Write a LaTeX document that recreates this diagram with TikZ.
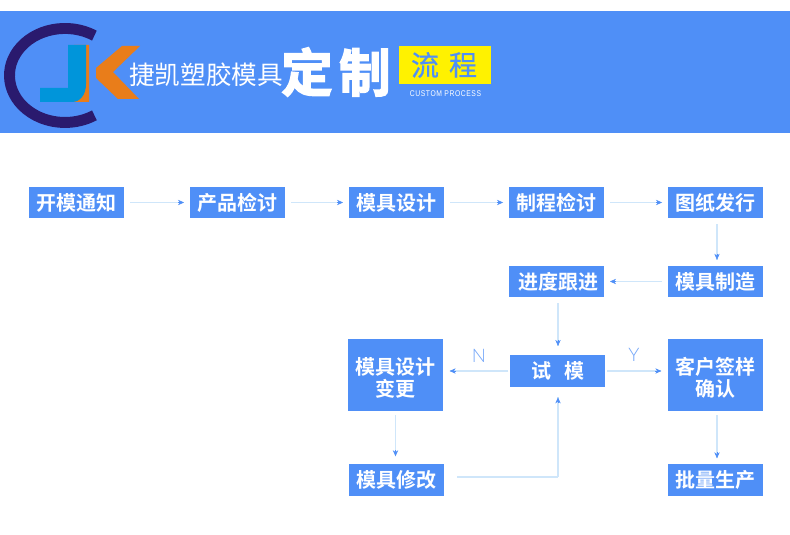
\documentclass[tikz,border=0pt]{standalone}
\usepackage{fontspec}
\setmainfont{Liberation Sans}
\newfontfamily\cjk{Noto Sans CJK SC}
\newfontfamily\cjkm{Noto Sans CJK SC}[FakeBold=0.6]
\newfontfamily\cjkb{Noto Sans CJK SC Bold}
\newfontfamily\cjkh{Noto Sans CJK SC Bold}[FakeBold=3]
\newfontfamily\spaced{Liberation Sans}[LetterSpace=7,FakeStretch=0.82]
\newfontfamily\thinlat{Lato Light}
\usetikzlibrary{arrows.meta,calc}
\definecolor{band}{HTML}{4F8FF7}
\definecolor{linecol}{HTML}{CFE6FA}
\definecolor{cnavy}{HTML}{2A1A6E}
\definecolor{jblue}{HTML}{0095DA}
\definecolor{korange}{HTML}{E97D1A}
\tikzset{
  x=0.75pt,y=-0.75pt,
  procbox/.style={fill=band,text=white,minimum width=71.25pt,minimum height=23.6pt,inner sep=0pt,outer sep=0pt,font=\cjkb\fontsize{15}{17}\selectfont,align=center},
  tallbox/.style={procbox,minimum height=54pt},
  flowplain/.style={draw=linecol,line width=0.9pt},
  flowtip/.style={draw=band,line width=0.4pt,-{Stealth[length=4.5pt,width=4pt]}},
  lab/.style={text=band!80!white,font=\thinlat\fontsize{14}{16}\selectfont,inner sep=0pt}
}
\newcommand{\flowline}[2]{%
  \coordinate (fa) at (#1);\coordinate (fb) at (#2);
  \draw[flowplain] (fa) -- (fb);
  \draw[flowtip] ($(fb)!4.5pt!(fa)$) -- (fb);}
\begin{document}
\begin{tikzpicture}
\useasboundingbox (0,0) rectangle (790,535);
\fill[white] (0,0) rectangle (790,535);
\fill[band] (0,11) rectangle (790,133);
% logo
\draw[cnavy,line width=8.2pt] (94.4,35.6) arc[start angle=-58,end angle=-302,x radius=55.5,y radius=47];
\fill[korange] (74,45) -- (89,45) -- (89,102) -- (70,102) -- cycle;
\fill[jblue] (68,45) -- (86,45) -- (86,84) .. controls (86,95) and (80,102) .. (72,102) -- (40,102) -- (40,88) -- (68,88) -- cycle;
\fill[korange] (122,46) -- (140,46) -- (113,72) -- (139,99) -- (118,99) -- (96,78) -- (96,68) -- cycle;
\node[text=white,font=\cjk\fontsize{19.2}{21}\selectfont,inner sep=0pt] (brand) at (206,75) {捷凯塑胶模具};
\node[text=white,font=\cjkh\fontsize{38.5}{42}\selectfont,inner sep=0pt] (dingzhi) at (336,72) {定\hspace{5pt}制};
\fill[yellow] (399,46) rectangle (491,84);
\node[text=band,font=\cjkm\fontsize{21}{24}\selectfont,inner sep=0pt] (liu) at (425,65) {流};
\node[text=band,font=\cjkm\fontsize{21}{24}\selectfont,inner sep=0pt] (cheng) at (463,65) {程};
\node[text=white,font=\spaced\fontsize{6.2}{7}\selectfont,inner sep=0pt] (custom) at (445.5,94) {CUSTOM PROCESS};
% boxes
\node[procbox] (a1) at (76.5,202.5) {开模通知};
\node[procbox] (a2) at (237.5,202.5) {产品检讨};
\node[procbox] (a3) at (396.5,202.5) {模具设计};
\node[procbox] (a4) at (556.5,202.5) {制程检讨};
\node[procbox] (a5) at (715.5,202.5) {图纸发行};
\node[procbox] (b1) at (715.5,281.5) {模具制造};
\node[procbox] (b2) at (556.5,281.5) {\hspace{3pt}进度跟进};
\node[procbox] (c2) at (557.5,371) {\hspace{1pt}试\hspace{10pt}模};
\node[tallbox] (c1) at (395.5,375) {\rule{0pt}{17pt}模具设计\\变更};
\node[tallbox] (c3) at (715.5,375) {\rule{0pt}{17pt}客户签样\\确认};
\node[procbox] (d1) at (396.5,480) {模具修改};
\node[procbox] (d3) at (715.5,480) {批量生产};
% connectors
\coordinate (xa) at (717,0);
\coordinate (xb) at (558,0);
\flowline{[xshift=4.5pt]a1.east}{[xshift=-4.5pt]a2.west}
\flowline{[xshift=4.5pt]a2.east}{[xshift=-4.5pt]a3.west}
\flowline{[xshift=4.5pt]a3.east}{[xshift=-4.5pt]a4.west}
\flowline{[xshift=4.5pt]a4.east}{[xshift=-4.5pt]a5.west}
\flowline{[yshift=-4.5pt]xa |- a5.south}{[yshift=4.5pt]xa |- b1.north}
\flowline{[xshift=-4.5pt]b1.west}{[xshift=4.5pt]b2.east}
\flowline{[yshift=-4.5pt]xb |- b2.south}{[yshift=7pt]xb |- c2.north}
\flowline{[xshift=-1.5pt]c2.west}{[xshift=5pt]c2 -| c1.east}
\flowline{[xshift=1.5pt]c2.east}{[xshift=-5pt]c2 -| c3.west}
\flowline{[yshift=-3pt]c1.south}{[yshift=6pt]c1 |- d1.north}
\flowline{[yshift=-3pt]xa |- c3.south}{[yshift=4.5pt]xa |- d3.north}
\coordinate (elbow) at (558,477);
\draw[flowplain] ([xshift=10pt]d1.east |- elbow) -- (elbow);
\flowline{elbow}{[yshift=-8pt]elbow |- c2.south}
\node[lab] (n) at (479,356) {N};
\node[lab] (y) at (634,355) {Y};
\end{tikzpicture}
\end{document}
